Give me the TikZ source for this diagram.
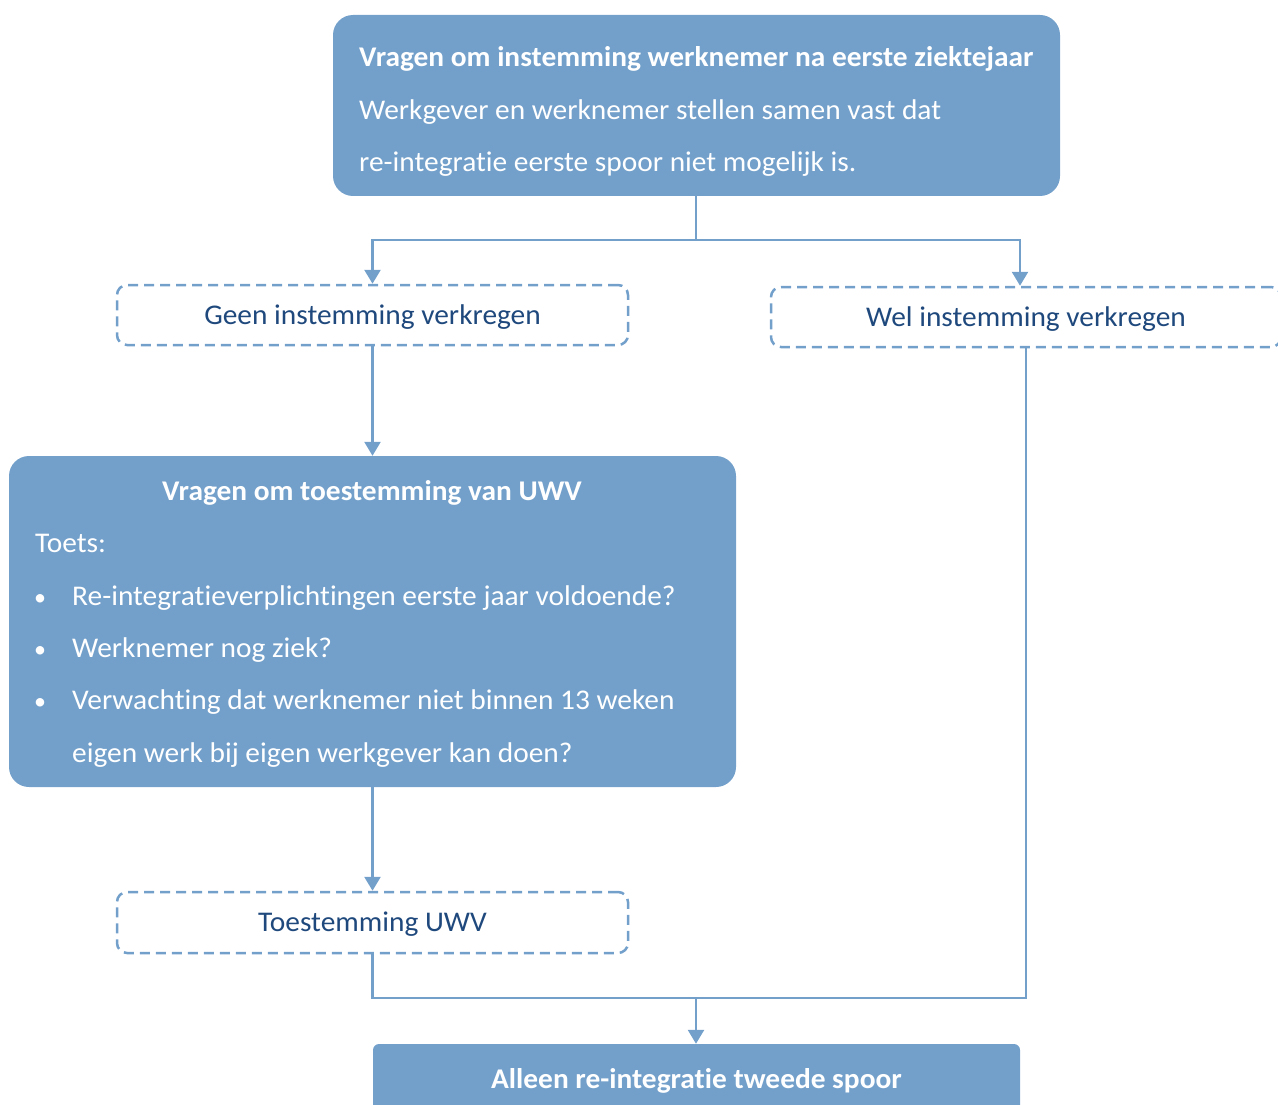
\documentclass[tikz,border=0pt]{standalone}
\usepackage{fontspec}
\setmainfont{Carlito}[Ligatures=NoCommon]
\usetikzlibrary{arrows.meta}
\definecolor{boxblue}{RGB}{114,160,203}
\definecolor{darktext}{RGB}{31,73,125}
\newcommand{\sq}[1]{\scalebox{1}[0.97]{#1}}
\tikzset{
  bluebox/.style={fill=boxblue, draw=none, rounded corners=20pt, inner sep=0pt},
  dashbox/.style={draw=boxblue, line width=2.5pt, dash pattern=on 10pt off 6pt, rounded corners=10pt, inner sep=0pt, text=darktext},
  txt/.style={inner sep=0pt, font=\fontsize{29.4}{34}\selectfont},
  wtxt/.style={txt, text=white},
  btxt/.style={wtxt, font=\fontsize{29.4}{34}\selectfont\bfseries},
  conn/.style={draw=boxblue, line width=2.6pt},
  arr/.style={conn, -{Triangle[width=16pt,length=14pt]}},
}
\begin{document}
\begin{tikzpicture}[x=1pt,y=-1pt]
\useasboundingbox (0,0) rectangle (1278,1105);
\clip (0,0) rectangle (1278,1105);
% top box
\node[bluebox, minimum width=727pt, minimum height=181pt] (b1) at (696.5,105.5) {};
\node[btxt, anchor=base west] (b1l1) at (359,67) {\sq{Vragen om instemming werknemer na eerste ziektejaar}};
\node[wtxt, anchor=base west] (b1l2) at (359,119.5) {\sq{Werkgever en werknemer stellen samen vast dat}};
\node[wtxt, anchor=base west] (b1l3) at (359,172) {\sq{re-integratie eerste spoor niet mogelijk is.}};
% dashed boxes
\node[dashbox, minimum width=511pt, minimum height=60pt] (d1) at (372.5,315) {};
\node[txt, text=darktext, anchor=base] (d1t) at (372.5,324) {\sq{Geen instemming verkregen}};
\node[dashbox, minimum width=510pt, minimum height=60pt] (d2) at (1026,317) {};
\node[txt, text=darktext, anchor=base] (d2t) at (1026,326) {\sq{Wel instemming verkregen}};
% box 3
\node[bluebox, minimum width=727pt, minimum height=331pt] (b3) at (372.5,621.5) {};
\node[btxt, anchor=base] (b3t) at (372,500) {\sq{Vragen om toestemming van UWV}};
\node[wtxt, anchor=base west] (b3a) at (35,552) {\sq{Toets:}};
\node[wtxt, anchor=base, font=\fontsize{24}{28}\selectfont] (bul1) at (40,605) {•};
\node[wtxt, anchor=base, font=\fontsize{24}{28}\selectfont] (bul2) at (40,657) {•};
\node[wtxt, anchor=base, font=\fontsize{24}{28}\selectfont] (bul3) at (40,709.5) {•};
\node[wtxt, anchor=base west] (b3b) at (72,605) {\sq{Re-integratieverplichtingen eerste jaar voldoende?}};
\node[wtxt, anchor=base west] (b3c) at (72,657) {\sq{Werknemer nog ziek?}};
\node[wtxt, anchor=base west] (b3d) at (72,709.5) {\sq{Verwachting dat werknemer niet binnen 13 weken}};
\node[wtxt, anchor=base west] (b3e) at (72,762) {\sq{eigen werk bij eigen werkgever kan doen?}};
% dashed box 4
\node[dashbox, minimum width=511pt, minimum height=61pt] (d4) at (372.5,922.5) {};
\node[txt, text=darktext, anchor=base] (d4t) at (372.5,931) {\sq{Toestemming UWV}};
% box 5
\node[bluebox, rounded corners=6pt, minimum width=647pt, minimum height=90pt] (b5) at (696.5,1089) {};
\node[btxt, anchor=base] (b5t) at (696.5,1088) {\sq{Alleen re-integratie tweede spoor}};
% connectors
\coordinate (split) at (696,240);
\coordinate (merge) at (696,998);
\draw[conn] (b1.south -| split) -- (split);
\draw[arr] (split) -| (d1.north);
\draw[arr] (split) -| ([xshift=-6pt]d2.north);
\draw[arr] (d1.south) -- (b3.north);
\draw[arr] (b3.south) -- (d4.north);
\draw[conn] (d4.south) |- (d2.south |- merge) -- (d2.south);
\draw[arr] (merge) -- (b5.north -| merge);
\end{tikzpicture}
\end{document}
